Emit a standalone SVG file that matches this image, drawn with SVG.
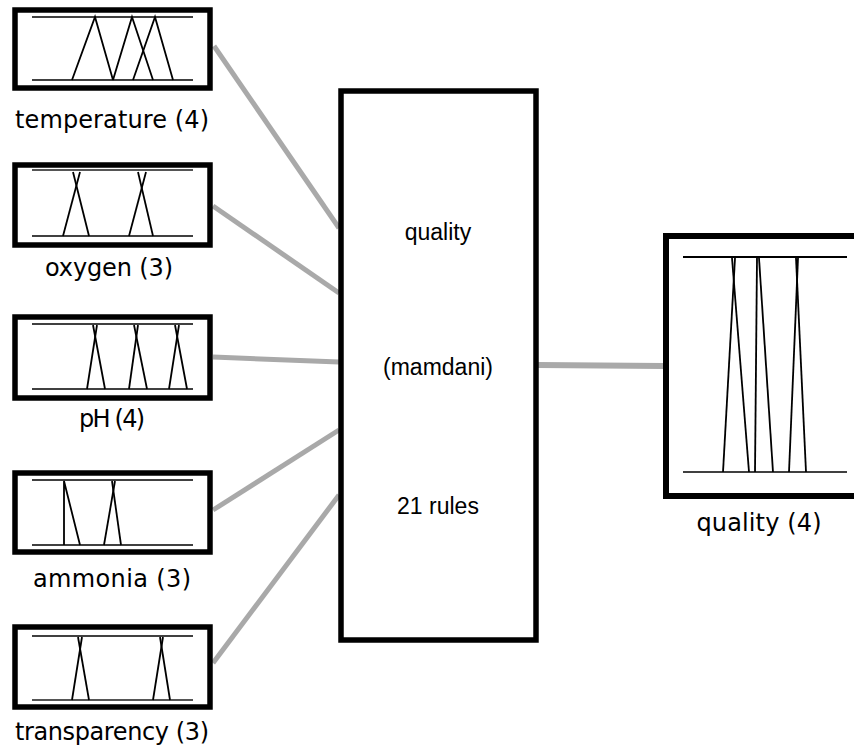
<svg xmlns="http://www.w3.org/2000/svg" width="854" height="753" viewBox="0 0 854 753">
<style>
.box{fill:#fff;stroke:#000;stroke-width:5.5}
.axis{stroke:#000;stroke-width:1.5;fill:none}
.mf{stroke:#000;stroke-width:1.8;fill:none}
.lbl{font-family:"DejaVu Sans",sans-serif;font-size:24px;fill:#000;text-anchor:middle}
.ctr{font-family:"Liberation Sans",Arial,sans-serif;font-size:23px;fill:#000;text-anchor:middle}
.conn{stroke:#a9a9a9;stroke-width:5;fill:none}
</style>
<rect width="854" height="753" fill="#fff"/>
<g id="connectors">
<line class="conn" x1="214" y1="46" x2="339" y2="228"/>
<line class="conn" x1="213" y1="206" x2="339" y2="293"/>
<line class="conn" x1="213" y1="357" x2="339" y2="362"/>
<line class="conn" x1="213" y1="510" x2="339" y2="430"/>
<line class="conn" x1="213" y1="663" x2="339" y2="495"/>
<line class="conn" x1="538" y1="365" x2="663" y2="366" style="stroke-width:6"/>
</g>
<g id="temperature">
<rect class="box" x="15" y="10" width="195" height="78"/>
<line class="axis" x1="32" y1="17" x2="193" y2="17"/>
<line class="axis" x1="32" y1="80" x2="193" y2="80"/>
<polyline class="mf" points="72,80 95,17 113,80"/>
<polyline class="mf" points="113,80 132,17 153,80"/>
<polyline class="mf" points="133,80 155,17 173,80"/>
<text class="lbl" x="112" y="128" textLength="194">temperature (4)</text>
</g>
<g id="oxygen">
<rect class="box" x="15" y="165" width="195" height="80"/>
<line class="axis" x1="32" y1="170" x2="193" y2="170" style="stroke:#555;stroke-width:2"/>
<line class="axis" x1="32" y1="236" x2="193" y2="236"/>
<line class="mf" x1="63" y1="236" x2="80" y2="172"/>
<line class="mf" x1="89" y1="236" x2="73" y2="172"/>
<line class="mf" x1="129" y1="236" x2="146" y2="172"/>
<line class="mf" x1="153" y1="236" x2="138" y2="172"/>
<text class="lbl" x="109" y="276" textLength="128">oxygen (3)</text>
</g>
<g id="pH">
<rect class="box" x="15" y="317" width="195" height="81"/>
<line class="axis" x1="32" y1="324" x2="193" y2="324"/>
<line class="axis" x1="32" y1="389" x2="193" y2="389"/>
<line class="mf" x1="87" y1="389" x2="97" y2="325"/>
<line class="mf" x1="105" y1="389" x2="93" y2="325"/>
<line class="mf" x1="129" y1="389" x2="138" y2="325"/>
<line class="mf" x1="147" y1="389" x2="134" y2="325"/>
<line class="mf" x1="169" y1="389" x2="179" y2="325"/>
<line class="mf" x1="187" y1="389" x2="175" y2="325"/>
<text class="lbl" x="112" y="427" textLength="66">pH (4)</text>
</g>
<g id="ammonia">
<rect class="box" x="15" y="473" width="195" height="79"/>
<line class="axis" x1="32" y1="480" x2="193" y2="480"/>
<line class="axis" x1="32" y1="545" x2="193" y2="545"/>
<polyline class="mf" points="64,545 64,481 80,545"/>
<line class="mf" x1="104" y1="545" x2="115" y2="481"/>
<line class="mf" x1="121" y1="545" x2="112" y2="481"/>
<text class="lbl" x="112" y="587" textLength="158">ammonia (3)</text>
</g>
<g id="transparency">
<rect class="box" x="15" y="627" width="195" height="80"/>
<line class="axis" x1="32" y1="636" x2="193" y2="636"/>
<line class="axis" x1="32" y1="700" x2="193" y2="700" style="stroke:#555;stroke-width:2"/>
<line class="mf" x1="72" y1="700" x2="82" y2="637"/>
<line class="mf" x1="89" y1="700" x2="78" y2="637"/>
<line class="mf" x1="153" y1="700" x2="163" y2="637"/>
<line class="mf" x1="170" y1="700" x2="160" y2="637"/>
<text class="lbl" x="112" y="740" textLength="194">transparency (3)</text>
</g>
<g id="rulebase">
<rect class="box" x="341" y="91" width="195" height="549"/>
<text class="ctr" x="438" y="240">quality</text>
<text class="ctr" x="438" y="375">(mamdani)</text>
<text class="ctr" x="438" y="514">21 rules</text>
</g>
<g id="quality-out">
<rect class="box" x="666" y="236" width="200" height="260" style="stroke-width:6"/>
<line class="axis" x1="683" y1="257" x2="847" y2="257" style="stroke-width:2"/>
<line class="axis" x1="683" y1="472" x2="847" y2="472"/>
<line class="mf" x1="723" y1="472" x2="735" y2="258"/>
<line class="mf" x1="749" y1="472" x2="732" y2="258"/>
<line class="mf" x1="755" y1="472" x2="757" y2="258"/>
<line class="mf" x1="773" y1="472" x2="759" y2="258"/>
<line class="mf" x1="789" y1="472" x2="798" y2="258"/>
<line class="mf" x1="806" y1="472" x2="796" y2="258"/>
<text class="lbl" x="759" y="531" textLength="125">quality (4)</text>
</g>
</svg>
